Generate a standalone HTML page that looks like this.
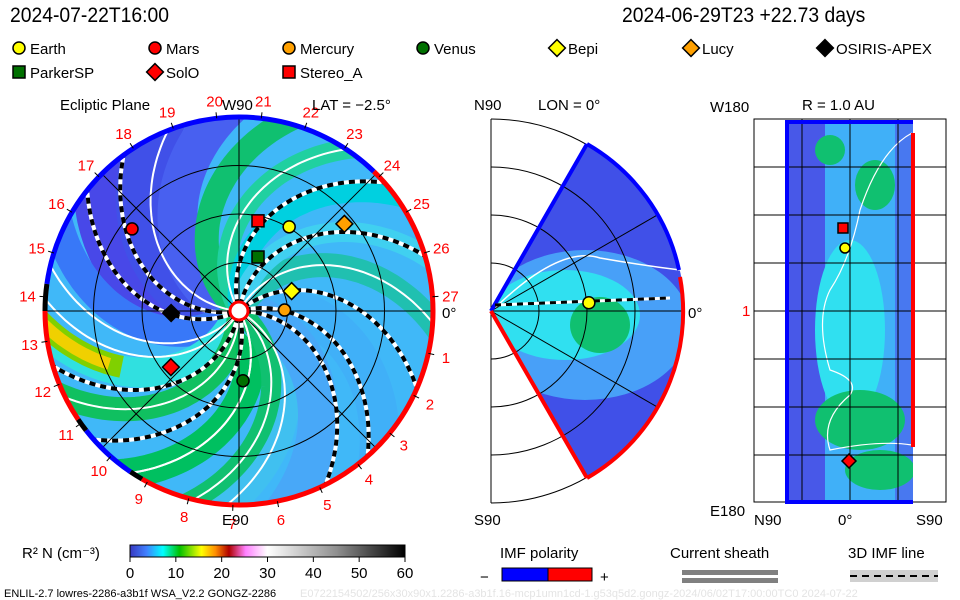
<!DOCTYPE html>
<html><head><meta charset="utf-8">
<style>
html,body{margin:0;padding:0;background:#fff;}
body{width:960px;height:600px;overflow:hidden;position:relative;font-family:"Liberation Sans",sans-serif;}
.t{position:absolute;white-space:nowrap;color:#000;transform-origin:0 0;}
svg text{font-family:"Liberation Sans",sans-serif;}
</style></head>
<body>
<div class="t" style="left:10px;top:4px;font-size:21px;transform:scaleX(0.92);">2024-07-22T16:00</div>
<div class="t" style="left:622px;top:4px;font-size:21px;transform:scaleX(0.92);">2024-06-29T23 +22.73 days</div>
<svg id="s" width="960" height="600" style="position:absolute;left:0;top:0">
<defs>
<clipPath id="disc"><circle cx="239" cy="311" r="194"/></clipPath>
<clipPath id="wedge"><path d="M491,311 L587,144 A192,192 0 0 1 587,478 Z"/></clipPath>
<clipPath id="rect"><rect x="785" y="122" width="128" height="380"/></clipPath>
<linearGradient id="cb" x1="0" x2="1">
<stop offset="0" stop-color="#3838c0"/><stop offset="0.06" stop-color="#4080ff"/><stop offset="0.12" stop-color="#00ffff"/>
<stop offset="0.18" stop-color="#00c000"/><stop offset="0.26" stop-color="#ffff00"/><stop offset="0.31" stop-color="#ff9000"/>
<stop offset="0.36" stop-color="#b00000"/><stop offset="0.42" stop-color="#ff80ff"/><stop offset="0.5" stop-color="#ffffff"/>
<stop offset="0.75" stop-color="#909090"/><stop offset="1" stop-color="#000000"/></linearGradient>
</defs>
<g id="eq"></g>
<g id="mer"></g>
<g id="lat"></g>
<g id="leg"></g>
</svg>
<script>
const NS='http://www.w3.org/2000/svg';
// ---- data ----
const bodyNames=['Earth','Mars','Mercury','Venus','Bepi','Lucy','OSIRIS-APEX','ParkerSP','SolO','Stereo_A'];
const bodyR=[1.01,1.39,0.47,0.72,0.58,1.41,0.70,0.59,0.91,0.95];
const bodyLon=[59.2,142.5,1.2,-86.7,20.7,39.6,181.7,70.6,219.5,78.1];
const bodyShape=['c','c','c','c','d','d','d','s','d','s'];
const bodyColor=['#ffff00','#ff0000','#ffa000','#007000','#ffff00','#ffa000','#000000','#007000','#ff0000','#ff0000'];
const dashStarts=[190,205,105,80,40,15,0,260,285];
const whiteStarts=[175,120,60,-30,-60,-90,230,240,300,320];
const bandStarts=[200,180,160,220,140,120,100,250,270,300,330,20,-10,-40,60,80];
const bandColors=['#4848e8','#4050e8','#4860f0','#3878f8','#10c070','#20d0a0','#00d0e0','#30e0e0','#10c060','#00c060','#40c0f0','#40b0f8','#48a8f8','#10c070','#20c0b0','#40d0f0'];
const bandWidths=[50,50,40,30,24,20,20,30,24,30,30,40,40,20,24,20];
const ringsAU=[0.5,1.0,1.5,2.0];
const dayLabels=[1,2,3,4,5,6,7,8,9,10,11,12,13,14,15,16,17,18,19,20,21,22,23,24,25,26,27];
const cbTicks=[0,10,20,30,40,50,60];
const latGridY=[167,215,263,311,359,407,455];
const latGridX=[802,850,898];
// ---- geometry ----
const CX=239,CY=311,PX=97,K=175;
function ex(r,a){return CX+r*Math.cos(a*Math.PI/180);}
function ey(r,a){return CY-r*Math.sin(a*Math.PI/180);}
function mk(tag,at,par){const e=document.createElementNS(NS,tag);for(const k in at)e.setAttribute(k,at[k]);par.appendChild(e);return e;}
function spiral(a0,r0){r0=r0||6;let d='';for(let r=r0;r<=270;r+=4){const a=a0-(r/K)*180/Math.PI;d+=(r==r0?'M':'L')+ex(r,a).toFixed(1)+','+ey(r,a).toFixed(1);}return d;}
const eq=document.getElementById('eq');
const g1=mk('g',{'clip-path':'url(#disc)'},eq);
let bg=mk('circle',{cx:CX,cy:CY,r:194,fill:'#40b8f8'},g1);

bandStarts.forEach((a,i)=>{const p=mk('path',{d:spiral(a),fill:'none',stroke:bandColors[i],'stroke-width':bandWidths[i]},g1);
});
mk('path',{d:spiral(248,130),fill:'none',stroke:'#80d000','stroke-width':22},g1);
mk('path',{d:spiral(248,140),fill:'none',stroke:'#f0d000','stroke-width':12},g1);
whiteStarts.forEach(a=>{const p=mk('path',{d:spiral(a),fill:'none',stroke:'#fff','stroke-width':2},g1);
});
dashStarts.forEach(a=>{const d=spiral(a);mk('path',{d:d,fill:'none',stroke:'#fff','stroke-width':4},g1);
const p=mk('path',{d:d,fill:'none',stroke:'#000','stroke-width':4,'stroke-dasharray':'6 5'},g1);
});
ringsAU.forEach(r=>{const c=mk('circle',{cx:CX,cy:CY,r:r*PX,fill:'none',stroke:'#000','stroke-width':1},g1);
});
[0,45,90,135].forEach(a=>mk('line',{x1:ex(194,a),y1:ey(194,a),x2:ex(194,a+180),y2:ey(194,a+180),stroke:'#000','stroke-width':1},g1));
function arc(r,a1,a2,col,w,par){mk('path',{d:`M${ex(r,a1)},${ey(r,a1)} A${r},${r} 0 ${Math.abs(a2-a1)>180?1:0} 0 ${ex(r,a2)},${ey(r,a2)}`,fill:'none',stroke:col,'stroke-width':w},par);}
arc(194,-120,46,'#ff0000',5,eq);arc(194,46,172,'#0000ff',5,eq);arc(194,172,180,'#000',5,eq);
arc(194,180,214,'#ff0000',5,eq);arc(194,214,218,'#000',5,eq);arc(194,218,236,'#0000ff',5,eq);arc(194,236,240,'#000',5,eq);
mk('circle',{cx:CX,cy:CY,r:9,fill:'#fff',stroke:'#ff0000','stroke-width':3},eq);
dayLabels.forEach(n=>{const a=-12.6-13.2*(n-1);const t=mk('text',{x:ex(212,a),y:ey(212,a)+6,'font-size':15,fill:'#ff0000','text-anchor':'middle'},eq);t.textContent=n;

mk('line',{x1:ex(194,a),y1:ey(194,a),x2:ex(200,a),y2:ey(200,a),stroke:'#000'},eq);});
function txt(x,y,s,fs,par,name,anchor,col){const t=mk('text',{x:x,y:y,'font-size':fs,fill:col||'#000','text-anchor':anchor||'start'},par);t.textContent=s;return t;}
txt(60,110,'Ecliptic Plane',15,eq,'ecliptic-title');
txt(222,110,'W90',15,eq,'w90-label');
txt(312,110,'LAT = −2.5°',15,eq,'lat-title');
txt(222,525,'E90',15,eq,'e90-label');
txt(442,318,'0°',15,eq,'zero-label');
function marker(shape,x,y,col,par,s){let e;
if(shape=='c')e=mk('circle',{cx:x,cy:y,r:s,fill:col,stroke:'#000','stroke-width':1.5},par);
else if(shape=='s')e=mk('rect',{x:x-s,y:y-s,width:2*s,height:2*s,fill:col,stroke:'#000','stroke-width':1.5},par);
else e=mk('path',{d:`M${x},${y-s*1.4}L${x+s*1.4},${y}L${x},${y+s*1.4}L${x-s*1.4},${y}Z`,fill:col,stroke:'#000','stroke-width':1.5},par);return e;}
bodyNames.forEach((n,i)=>{const m=marker(bodyShape[i],ex(bodyR[i]*PX,bodyLon[i]),ey(bodyR[i]*PX,bodyLon[i]),bodyColor[i],eq,6);
});
// ---- meridional ----
const mer=document.getElementById('mer');const MX=491,MY=311;
mk('line',{x1:MX,y1:119,x2:MX,y2:503,stroke:'#000'},mer);
[48,96,144,192].forEach(r=>mk('path',{d:`M${MX},${MY-r} A${r},${r} 0 0 1 ${MX},${MY+r}`,fill:'none',stroke:'#000','stroke-width':1},mer));
const g2=mk('g',{'clip-path':'url(#wedge)'},mer);
mk('rect',{x:480,y:130,width:220,height:360,fill:'#4050e8'},g2);
mk('ellipse',{cx:585,cy:325,rx:105,ry:75,fill:'#48a0f8'},g2);
mk('ellipse',{cx:565,cy:315,rx:75,ry:45,fill:'#30e0f0'},g2);
mk('ellipse',{cx:600,cy:325,rx:30,ry:28,fill:'#10c070'},g2);
mk('path',{d:'M495,308 Q560,245 600,258 Q640,265 680,270',fill:'none',stroke:'#fff','stroke-width':1.5},g2);
[48,96,144].forEach(r=>mk('circle',{cx:MX,cy:MY,r:r,fill:'none',stroke:'#000'},g2));
[30,-30,0].forEach(a=>mk('line',{x1:MX,y1:MY,x2:MX+200*Math.cos(a*Math.PI/180),y2:MY-200*Math.sin(a*Math.PI/180),stroke:'#000'},g2));
mk('path',{d:`M${MX},${MY} L587,144`,stroke:'#0000ff','stroke-width':4},mer);
mk('path',{d:`M${MX},${MY} L587,478`,stroke:'#ff0000','stroke-width':4},mer);
mk('path',{d:`M587,144 A192,192 0 0 1 679,270`,fill:'none',stroke:'#0000ff','stroke-width':4},mer);
mk('path',{d:`M680,277 A192,192 0 0 1 587,478`,fill:'none',stroke:'#ff0000','stroke-width':4},mer);
mk('path',{d:'M495,305 L670,298',stroke:'#fff','stroke-width':3},mer);
mk('path',{d:'M495,305 L670,298',stroke:'#000','stroke-width':3,'stroke-dasharray':'6 5'},mer);
const em=marker('c',MX+bodyR[0]*PX*Math.cos(2.5*Math.PI/180),MY-bodyR[0]*PX*Math.sin(2.5*Math.PI/180)-4,bodyColor[0],mer,6);

txt(474,110,'N90',15,mer,'n90-label');txt(538,110,'LON = 0°',15,mer,'lon-title');
txt(474,525,'S90',15,mer,'s90-label');txt(688,318,'0°',15,mer,'mer-zero-label');
// ---- latitude/longitude map ----
const lat=document.getElementById('lat');
mk('rect',{x:754,y:119,width:192,height:383,fill:'none',stroke:'#000'},lat);
const g3=mk('g',{'clip-path':'url(#rect)'},lat);
mk('rect',{x:785,y:122,width:128,height:380,fill:'#40b0f8'},g3);
mk('rect',{x:785,y:122,width:40,height:380,fill:'#4858e8'},g3);
mk('rect',{x:895,y:122,width:18,height:380,fill:'#4878f0'},g3);
mk('ellipse',{cx:850,cy:330,rx:35,ry:90,fill:'#30e0f0'},g3);
mk('ellipse',{cx:860,cy:420,rx:45,ry:30,fill:'#10c070'},g3);
mk('ellipse',{cx:830,cy:150,rx:15,ry:15,fill:'#10c070'},g3);
mk('ellipse',{cx:875,cy:185,rx:20,ry:25,fill:'#10c070'},g3);
mk('ellipse',{cx:880,cy:470,rx:35,ry:20,fill:'#10c070'},g3);
mk('path',{d:'M912,133 Q880,150 860,210 Q850,260 830,290 Q815,320 830,370 Q860,380 850,395 Q820,420 830,450 Q880,440 912,445',fill:'none',stroke:'#fff','stroke-width':1.2},g3);
latGridY.forEach(y=>mk('line',{x1:754,y1:y,x2:946,y2:y,stroke:'#000'},lat));
latGridX.forEach(x=>mk('line',{x1:x,y1:119,x2:x,y2:502,stroke:'#000'},lat));
mk('path',{d:'M785,122 H913 M787,122 V502 H913',fill:'none',stroke:'#0000ff','stroke-width':4},lat);
mk('line',{x1:913,y1:133,x2:913,y2:447,stroke:'#ff0000','stroke-width':4},lat);
[['s',843,228,'#ff0000'],['c',845,248,'#ffff00'],['d',849,461,'#ff0000']].forEach(m=>{const e=marker(m[0],m[1],m[2],m[3],lat,5);});
txt(710,112,'W180',15,lat,'w180-label');txt(802,110,'R = 1.0 AU',15,lat,'r-title');
txt(710,516,'E180',15,lat,'e180-label');txt(754,525,'N90',15,lat,'latmap-n90');
txt(838,525,'0°',15,lat,'latmap-zero');txt(916,525,'S90',15,lat,'latmap-s90');
txt(742,316,'1',15,lat,'latmap-one','start','#ff0000');
// ---- legends ----
const leg=document.getElementById('leg');
const lx=[12,148,282,416,550,684,818,12,148,282],ly=[48,48,48,48,48,48,48,72,72,72];
bodyNames.forEach((n,i)=>{const m=marker(bodyShape[i],lx[i]+7,ly[i],bodyColor[i],leg,6);

txt(lx[i]+18,ly[i]+6,n,15,leg,'legend-entry');});
txt(22,558,'R² N (cm⁻³)',15,leg,'colorbar-title');
const cbx=130,cbw=275;
const cbr=mk('rect',{x:cbx,y:545,width:cbw,height:12,fill:'url(#cb)',stroke:'#000'},leg);

cbTicks.forEach(v=>{const x=cbx+v/60*cbw;mk('line',{x1:x,y1:557,x2:x,y2:562,stroke:'#000'},leg);txt(x,578,v,15,leg,'colorbar-tick','middle');});
txt(500,558,'IMF polarity',15,leg,'imf-polarity-title');
txt(480,582,'−',15,leg,'minus-label');txt(600,582,'+',15,leg,'plus-label');
mk('rect',{x:502,y:568,width:46,height:13,fill:'#0000ff',stroke:'#000'},leg);
mk('rect',{x:548,y:568,width:44,height:13,fill:'#ff0000',stroke:'#000'},leg);
txt(670,558,'Current sheath',15,leg,'current-sheath-title');
mk('rect',{x:682,y:570,width:96,height:5,fill:'#808080'},leg);mk('rect',{x:682,y:578,width:96,height:5,fill:'#808080'},leg);
txt(848,558,'3D IMF line',15,leg,'imf-line-title');
mk('rect',{x:850,y:570,width:88,height:12,fill:'#d0d0d0'},leg);
mk('line',{x1:850,y1:576,x2:938,y2:576,stroke:'#000','stroke-width':2,'stroke-dasharray':'7 5'},leg);
txt(4,597,'ENLIL-2.7 lowres-2286-a3b1f WSA_V2.2 GONGZ-2286',11,leg,'model-footer');
txt(300,597,'E0722154502/256x30x90x1.2286-a3b1f.16-mcp1umn1cd-1.g53q5d2.gongz-2024/06/02T17:00:00TC0   2024-07-22',11,leg,'faint-footer','start','#e4e4e4');
</script>
</body></html>
